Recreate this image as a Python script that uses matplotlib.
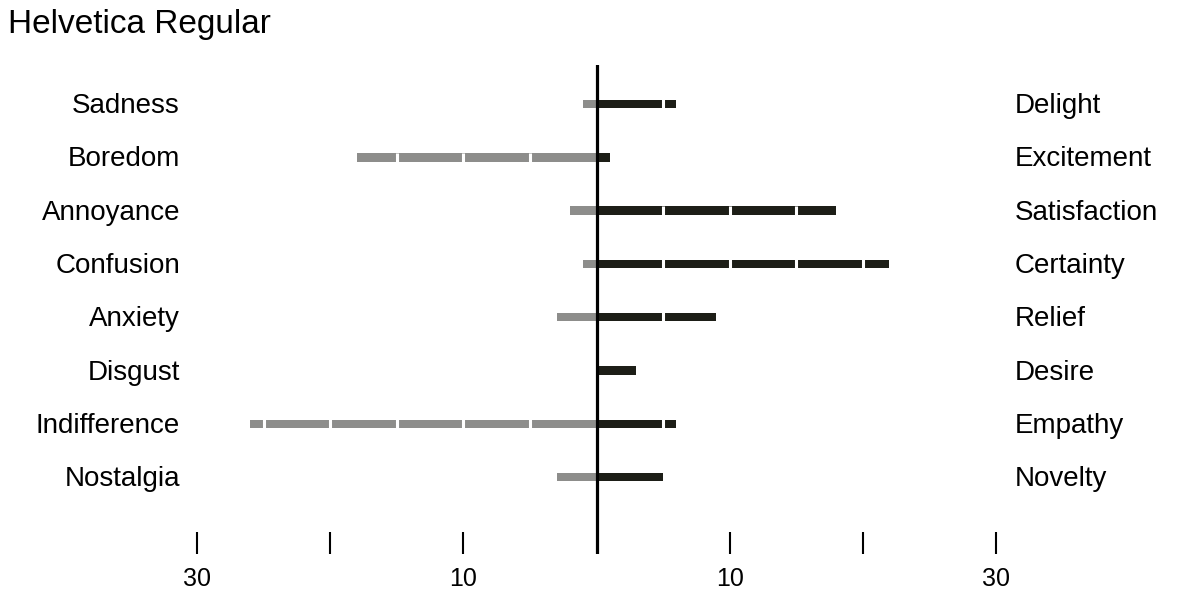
import matplotlib
matplotlib.use('Agg')
import matplotlib.pyplot as plt

# data
left_labels = ['Sadness', 'Boredom', 'Annoyance', 'Confusion',
               'Anxiety', 'Disgust', 'Indifference', 'Nostalgia']
right_labels = ['Delight', 'Excitement', 'Satisfaction', 'Certainty',
                'Relief', 'Desire', 'Empathy', 'Novelty']
left_values = [1, 18, 2, 1, 3, 0, 26, 3]
right_values = [6, 1, 18, 22, 9, 3, 6, 5]
tick_values = [-30, -20, -10, 10, 20, 30]
tick_labels = ['30', '', '10', '10', '', '30']

GRAY = '#8d8d8b'
DARK = '#1d1e17'
FONT = ['Liberation Sans', 'DejaVu Sans']


def main():
    fig = plt.figure(figsize=(12, 6.01), dpi=100)
    ax = fig.add_axes([0, 47 / 601, 1, 489 / 601])

    rows = list(range(len(left_labels)))
    h = 0.16
    ax.barh(rows, [-v for v in left_values], height=h, color=GRAY)
    ax.barh(rows, right_values, height=h, color=DARK)

    # white gaps every 5 units
    for y, lv, rv in zip(rows, left_values, right_values):
        for k in range(5, 60, 5):
            if k < lv:
                ax.vlines(-k, y - h / 2 - 0.01, y + h / 2 + 0.01, color='white', lw=2.2)
            if k < rv:
                ax.vlines(k, y - h / 2 - 0.01, y + h / 2 + 0.01, color='white', lw=2.2)

    ax.axvline(0, color='black', lw=2.3)

    for y, a, b in zip(rows, left_labels, right_labels):
        ax.text(180 / 1200, y + 0.04, a, transform=ax.get_yaxis_transform(),
                ha='right', va='center', fontsize=20, family=FONT)
        ax.text(1015 / 1200, y + 0.04, b, transform=ax.get_yaxis_transform(),
                ha='left', va='center', fontsize=20, family=FONT)

    ax.set_xlim(-596.5 / 13.317, 603.5 / 13.317)
    ax.set_ylim(8.443, -0.732)
    ax.set_xticks(tick_values)
    ax.set_xticklabels(tick_labels, fontsize=18,
                       family=['Liberation Sans Narrow', 'Liberation Sans'])
    ax.tick_params(axis='x', direction='in', length=16, width=1.5, pad=9)
    ax.set_yticks([])
    for s in ax.spines.values():
        s.set_visible(False)
    ax.patch.set_alpha(0)

    fig.text(8 / 1200, 1 - 25 / 601, 'Helvetica Regular', fontsize=24,
             family=FONT, ha='left', va='center')

    fig.savefig('out.png', dpi=100)


if __name__ == '__main__':
    main()
